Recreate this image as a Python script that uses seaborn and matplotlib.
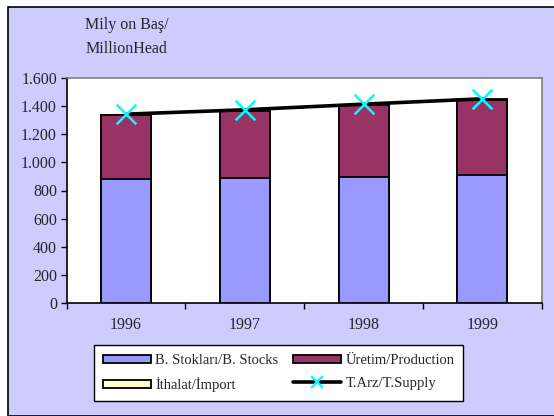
import numpy as np
import pandas as pd
import matplotlib
matplotlib.use("Agg")
import matplotlib.pyplot as plt
import matplotlib.patches as mpatches
from matplotlib.lines import Line2D
from matplotlib.ticker import FuncFormatter, FixedLocator
import seaborn as sns

years = ["1996", "1997", "1998", "1999"]
stocks = [885, 888, 899, 911]
production = [450, 478, 507, 533]
imports = [5, 5, 5, 5]
supply = [1343, 1374, 1414, 1452]

ylabel = "Mily on Baş/\nMillionHead"
lbl_stocks = "B. Stokları/B. Stocks"
lbl_prod = "Üretim/Production"
lbl_imp = "İthalat/İmport"
lbl_supply = "T.Arz/T.Supply"

sns.set_theme(style="white")
plt.rcParams['font.family'] = ['Liberation Serif', 'DejaVu Serif']

C_BG = "#CCCCFF"
C_STOCK = "#9999FF"
C_PROD = "#993366"
C_IMP = "#FFFFCC"

fig = plt.figure(figsize=(5.54, 4.16), dpi=100)
fig.patch.set_facecolor("white")
W, H = 554, 416
# outer chart area with border
bg = mpatches.Rectangle((8 / W, 0), 1, 1 - 7 / H, transform=fig.transFigure,
                        facecolor=C_BG, edgecolor="black", linewidth=1.2, zorder=-10)
fig.patches.append(bg)

ax = fig.add_axes([66.7 / W, 1 - 303 / H, (541.7 - 66.7) / W, (303 - 78) / H])
ax.set_facecolor("white")
ax.set_zorder(1)

df = pd.DataFrame({"year": years,
                   "total": np.array(stocks) + np.array(production) + np.array(imports),
                   "sp": np.array(stocks) + np.array(production),
                   "s": stocks})

bw = 0.42
sns.barplot(data=df, x="year", y="total", color=C_IMP, saturation=1, width=bw,
            edgecolor="black", linewidth=1.3, ax=ax, zorder=2)
sns.barplot(data=df, x="year", y="sp", color=C_PROD, saturation=1, width=bw,
            edgecolor="black", linewidth=1.3, ax=ax, zorder=3)
sns.barplot(data=df, x="year", y="s", color=C_STOCK, saturation=1, width=bw,
            edgecolor="black", linewidth=1.3, ax=ax, zorder=4)

sns.lineplot(x=np.arange(len(years)), y=supply, color="black", linewidth=2.6, ax=ax,
             zorder=5, legend=False)
sns.scatterplot(x=np.arange(len(years)), y=supply, marker="x", s=200, color="#00FFFF",
                linewidth=1.8, ax=ax, zorder=6, legend=False)

ax.set_xlim(-0.5, 3.5)
ax.set_ylim(0, 1600)
ax.set_yticks(np.arange(0, 1601, 200))
ax.yaxis.set_major_formatter(FuncFormatter(lambda v, p: f"{int(v):,}".replace(",", ".")))
ax.xaxis.set_major_locator(FixedLocator([-0.5, 0.5, 1.5, 2.5, 3.5]))
ax.xaxis.set_minor_locator(FixedLocator([0, 1, 2, 3]))
ax.set_xticklabels([], minor=False)
ax.set_xticklabels(years, minor=True)
ax.tick_params(axis="x", which="major", direction="out", length=4, width=1, color="black", bottom=True)
ax.tick_params(axis="x", which="minor", length=0, pad=10, labelsize=11.5)
ax.tick_params(axis="y", direction="out", length=4, width=1, color="black", left=True, pad=3, labelsize=11.5)
ax.set_xlabel("")
ax.set_ylabel("")

for s in ["top", "right"]:
    ax.spines[s].set_color("#808080")
    ax.spines[s].set_linewidth(1.2)
for s in ["left", "bottom"]:
    ax.spines[s].set_color("black")
    ax.spines[s].set_linewidth(1.2)

fig.text(127 / W, 1 - 37 / H, ylabel, ha="center", va="center", fontsize=11.5, linespacing=1.6)

handles = [
    mpatches.Patch(facecolor=C_STOCK, edgecolor="black", linewidth=1.3, label=lbl_stocks),
    mpatches.Patch(facecolor=C_IMP, edgecolor="black", linewidth=1.3, label=lbl_imp),
    mpatches.Patch(facecolor=C_PROD, edgecolor="black", linewidth=1.3, label=lbl_prod),
    Line2D([0], [0], color="black", linewidth=2.6, marker="x", markersize=8,
           markeredgecolor="#00FFFF", markeredgewidth=1.6, label=lbl_supply),
]
leg = fig.legend(handles=handles, ncol=2, loc="center",
                 bbox_to_anchor=((90 + 467) / 2 / W, 1 - 373 / H),
                 fontsize=10.5, frameon=True, fancybox=False, framealpha=1,
                 edgecolor="black", facecolor="white", handlelength=3.3, handleheight=0.5,
                 handletextpad=0.3, columnspacing=1.0, borderpad=0.6, labelspacing=0.7)
leg.get_frame().set_linewidth(1.0)

fig.savefig("out.png", dpi=100)
